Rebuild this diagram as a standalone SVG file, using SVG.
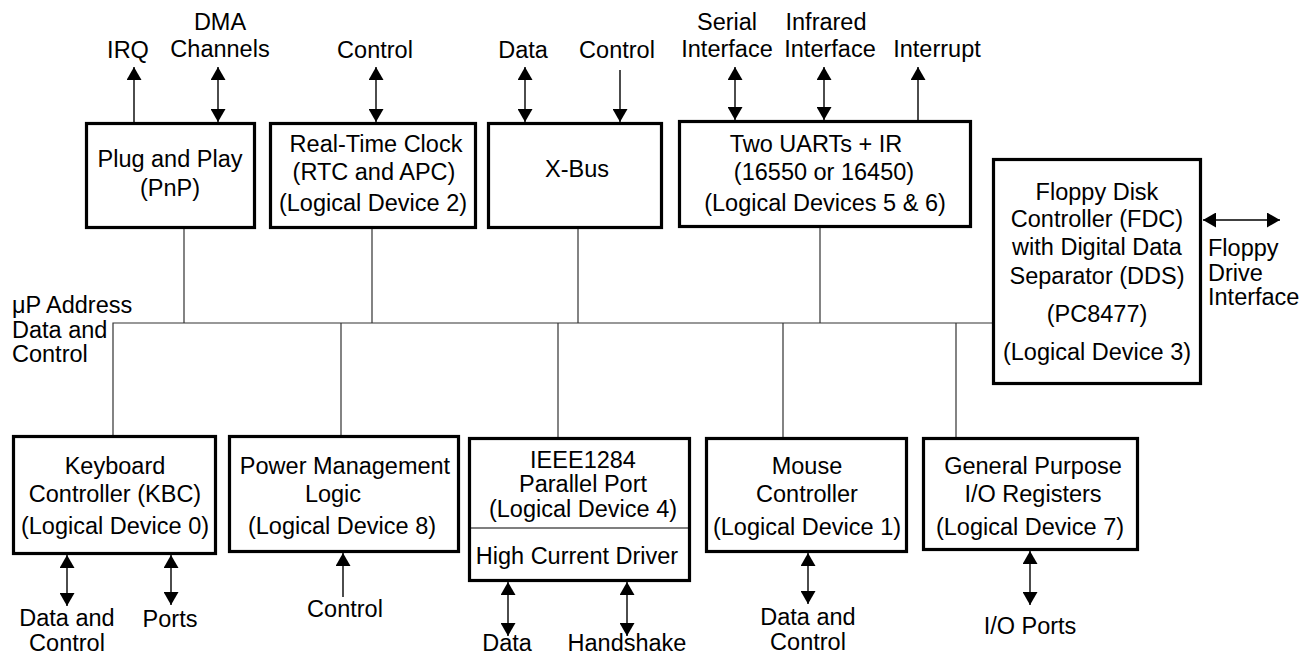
<svg xmlns="http://www.w3.org/2000/svg" width="1312" height="656" viewBox="0 0 1312 656">
<style>
.box{fill:#fff;stroke:#000;stroke-width:3.2}
.bus{fill:none;stroke:#333;stroke-width:1.2}
.arr{fill:none;stroke:#000;stroke-width:1.4}
text{font-family:"Liberation Sans",Arial,sans-serif;font-size:23.5px;fill:#000}
.c{text-anchor:middle}
</style>
<defs>
<marker id="ah" viewBox="0 0 13 15" refX="13" refY="7.5" markerWidth="13" markerHeight="15" markerUnits="userSpaceOnUse" orient="auto-start-reverse">
<path d="M0,0 L13,7.5 L0,15 z" fill="#000"/>
</marker>
</defs>
<rect width="1312" height="656" fill="#fff"/>
<g id="connectors">
<path class="bus" d="M113,435 V323 H993 M184,229 V323 M372,229 V323 M578,229 V323 M820,228 V323 M341,323 V435 M558,323 V437 M783,323 V437 M956,323 V437"/>
<line class="arr" x1="134" y1="122" x2="134" y2="67" marker-end="url(#ah)"/>
<line class="arr" x1="218" y1="67" x2="218" y2="122" marker-start="url(#ah)" marker-end="url(#ah)"/>
<line class="arr" x1="376" y1="67" x2="376" y2="122" marker-start="url(#ah)" marker-end="url(#ah)"/>
<line class="arr" x1="525" y1="67" x2="525" y2="122" marker-start="url(#ah)" marker-end="url(#ah)"/>
<line class="arr" x1="620" y1="70" x2="620" y2="122" marker-end="url(#ah)"/>
<line class="arr" x1="735" y1="67" x2="735" y2="120" marker-start="url(#ah)" marker-end="url(#ah)"/>
<line class="arr" x1="824" y1="67" x2="824" y2="120" marker-start="url(#ah)" marker-end="url(#ah)"/>
<line class="arr" x1="918" y1="120" x2="918" y2="67" marker-end="url(#ah)"/>
<line class="arr" x1="1203" y1="220" x2="1280" y2="220" marker-start="url(#ah)" marker-end="url(#ah)"/>
<line class="arr" x1="67" y1="555" x2="67" y2="606" marker-start="url(#ah)" marker-end="url(#ah)"/>
<line class="arr" x1="171" y1="555" x2="171" y2="605" marker-start="url(#ah)" marker-end="url(#ah)"/>
<line class="arr" x1="343" y1="597" x2="343" y2="553" marker-end="url(#ah)"/>
<line class="arr" x1="508" y1="582" x2="508" y2="636" marker-start="url(#ah)" marker-end="url(#ah)"/>
<line class="arr" x1="627" y1="582" x2="627" y2="636" marker-start="url(#ah)" marker-end="url(#ah)"/>
<line class="arr" x1="808" y1="553" x2="808" y2="604" marker-start="url(#ah)" marker-end="url(#ah)"/>
<line class="arr" x1="1030" y1="551" x2="1030" y2="605" marker-start="url(#ah)" marker-end="url(#ah)"/>
</g>
<g id="labels">
<text class="c" x="128" y="58">IRQ</text>
<text class="c" x="220" y="30">DMA</text>
<text class="c" x="220" y="57">Channels</text>
<text class="c" x="375" y="58">Control</text>
<text class="c" x="523" y="58">Data</text>
<text class="c" x="617" y="58">Control</text>
<text class="c" x="727" y="30">Serial</text>
<text class="c" x="727" y="57">Interface</text>
<text class="c" x="826" y="30">Infrared</text>
<text class="c" x="830" y="57">Interface</text>
<text class="c" x="937" y="57">Interrupt</text>
<text x="1208" y="256">Floppy</text>
<text x="1208" y="281">Drive</text>
<text x="1208" y="305">Interface</text>
<text x="12" y="313">μP Address</text>
<text x="12" y="338">Data and</text>
<text x="12" y="362">Control</text>
<text class="c" x="67" y="626">Data and</text>
<text class="c" x="67" y="651">Control</text>
<text class="c" x="170" y="627">Ports</text>
<text class="c" x="345" y="617">Control</text>
<text class="c" x="507" y="651">Data</text>
<text class="c" x="627" y="651">Handshake</text>
<text class="c" x="808" y="625">Data and</text>
<text class="c" x="808" y="650">Control</text>
<text class="c" x="1030" y="634">I/O Ports</text>
</g>
<g id="pnp">
<rect class="box" x="86.5" y="123.5" width="168" height="104"/>
<text class="c" x="170" y="167">Plug and Play</text>
<text class="c" x="170" y="196">(PnP)</text>
</g>
<g id="rtc">
<rect class="box" x="270.5" y="123.5" width="205" height="104"/>
<text class="c" x="376" y="152">Real-Time Clock</text>
<text class="c" x="374" y="180">(RTC and APC)</text>
<text class="c" x="373" y="211">(Logical Device 2)</text>
</g>
<g id="xbus">
<rect class="box" x="488.5" y="123.5" width="173" height="104"/>
<text class="c" x="577" y="177">X-Bus</text>
</g>
<g id="uarts">
<rect class="box" x="679.5" y="121.5" width="291" height="105"/>
<text class="c" x="816" y="152">Two UARTs + IR</text>
<text class="c" x="824" y="180">(16550 or 16450)</text>
<text class="c" x="825" y="211">(Logical Devices 5 &amp; 6)</text>
</g>
<g id="fdc">
<rect class="box" x="993.5" y="159.5" width="207" height="224"/>
<text class="c" x="1097" y="200">Floppy Disk</text>
<text class="c" x="1097" y="227">Controller (FDC)</text>
<text class="c" x="1097" y="255">with Digital Data</text>
<text class="c" x="1097" y="284">Separator (DDS)</text>
<text class="c" x="1097" y="322">(PC8477)</text>
<text class="c" x="1097" y="360">(Logical Device 3)</text>
</g>
<g id="kbc">
<rect class="box" x="13.5" y="436.5" width="202" height="117"/>
<text class="c" x="115" y="474">Keyboard</text>
<text class="c" x="115" y="502">Controller (KBC)</text>
<text class="c" x="115" y="534">(Logical Device 0)</text>
</g>
<g id="power">
<rect class="box" x="229.5" y="436.5" width="229" height="115"/>
<text class="c" x="345" y="474">Power Management</text>
<text class="c" x="333" y="502">Logic</text>
<text class="c" x="342" y="534">(Logical Device 8)</text>
</g>
<g id="ieee1284">
<rect class="box" x="469.5" y="438.5" width="220" height="142"/>
<line x1="468" y1="528" x2="691" y2="528" stroke="#000" stroke-width="1.2"/>
<text class="c" x="583" y="468">IEEE1284</text>
<text class="c" x="583" y="492">Parallel Port</text>
<text class="c" x="583" y="517">(Logical Device 4)</text>
<text class="c" x="577" y="564">High Current Driver</text>
</g>
<g id="mouse">
<rect class="box" x="706.5" y="438.5" width="200" height="113"/>
<text class="c" x="807" y="474">Mouse</text>
<text class="c" x="807" y="502">Controller</text>
<text class="c" x="807" y="535">(Logical Device 1)</text>
</g>
<g id="gpio">
<rect class="box" x="923.5" y="438.5" width="214" height="111"/>
<text class="c" x="1033" y="474">General Purpose</text>
<text class="c" x="1033" y="502">I/O Registers</text>
<text class="c" x="1030" y="535">(Logical Device 7)</text>
</g>
</svg>
